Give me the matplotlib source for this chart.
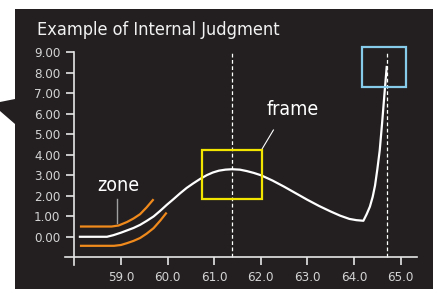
"""Example of Internal Judgment: curve with zone and frame callouts on a dark panel."""

import matplotlib

matplotlib.use("Agg")
import matplotlib.pyplot as plt
from matplotlib import font_manager
from matplotlib.patches import Polygon, Rectangle

# condensed face if one is installed, else a narrow-ish sans
names = {f.name for f in font_manager.fontManager.ttflist}
cond = [f for f in font_manager.fontManager.ttflist
        if f.name == "DejaVu Sans" and f.stretch == "condensed"]
if "Liberation Sans Narrow" in names:
    FAMILY, STRETCH = ["Liberation Sans Narrow", "DejaVu Sans"], "normal"
elif cond:
    FAMILY, STRETCH = ["DejaVu Sans"], "condensed"
else:
    FAMILY, STRETCH = ["Roboto", "DejaVu Sans"], "normal"
plt.rcParams["font.family"] = FAMILY
plt.rcParams["font.stretch"] = STRETCH

# main curve (white)
curve_x = [58.12, 58.7, 58.84, 59.0, 59.13, 59.27, 59.41, 59.55, 59.70, 59.84, 59.98,
           60.13, 60.27, 60.41, 60.55, 60.7, 60.84, 60.97, 61.1, 61.24, 61.38, 61.55,
           61.7, 61.85, 62.0, 62.25, 62.5, 62.75, 63.0, 63.25, 63.5, 63.7, 63.9,
           64.05, 64.2, 64.27, 64.34, 64.4, 64.45, 64.5, 64.55, 64.6, 64.65, 64.7]
curve_y = [0.0, 0.0, 0.08, 0.2, 0.31, 0.43, 0.58, 0.77, 0.99, 1.26, 1.55,
           1.84, 2.12, 2.38, 2.6, 2.82, 3.0, 3.13, 3.22, 3.27, 3.29, 3.27,
           3.2, 3.11, 3.0, 2.74, 2.44, 2.12, 1.8, 1.5, 1.23, 1.03, 0.87,
           0.81, 0.78, 1.1, 1.47, 1.95, 2.5, 3.3, 4.2, 5.5, 6.9, 8.27]

# zone band (orange)
upper_x = [58.12, 58.8, 58.95, 59.13, 59.27, 59.41, 59.55, 59.70]
upper_y = [0.5, 0.5, 0.55, 0.72, 0.89, 1.1, 1.43, 1.83]
lower_x = [58.12, 58.85, 59.0, 59.13, 59.27, 59.41, 59.55, 59.70, 59.84, 59.98]
lower_y = [-0.44, -0.44, -0.40, -0.31, -0.2, -0.06, 0.15, 0.42, 0.78, 1.18]

peak_x = 61.38
end_x = 64.7

x_ticks = [59.0, 60.0, 61.0, 62.0, 63.0, 64.0, 65.0]
y_ticks = [0, 1, 2, 3, 4, 5, 6, 7, 8, 9]

# callout boxes: (x0, y0, x1, y1)
frame_box = (60.74, 1.84, 62.03, 4.22)
end_box = (64.17, 7.30, 65.12, 9.24)

BG = "#231f20"
FG = "#e6e6e6"

fig = plt.figure(figsize=(4.35, 2.89), dpi=100)
fig.patch.set_facecolor("white")

W, H = 435.0, 289.0
fig.add_artist(Rectangle((15 / W, 0), (433 - 15) / W, 1 - 9 / H,
                         transform=fig.transFigure, facecolor=BG,
                         edgecolor="none", zorder=0))
wedge = [(0, 102), (15, 99), (15, 124), (0, 111)]
fig.add_artist(Polygon([(px / W, 1 - py / H) for px, py in wedge], closed=True,
                       transform=fig.transFigure, facecolor=BG,
                       edgecolor="none", zorder=0))

ax = fig.add_axes([65 / W, 1 - 264.5 / H, (417 - 65) / W, (264.5 - 52) / H])
ax.set_facecolor("none")
ax.set_xlim(57.8, 65.35)
ax.set_ylim(-1.35, 9)

for s in ("top", "right"):
    ax.spines[s].set_visible(False)
ax.spines["left"].set_position(("data", 58.0))
ax.spines["bottom"].set_position(("data", -1.0))
for s in ("left", "bottom"):
    ax.spines[s].set_color(FG)
    ax.spines[s].set_linewidth(1.2)

ax.set_xticks(x_ticks)
ax.set_xticklabels([f"{v:.1f}" for v in x_ticks])
ax.set_yticks(y_ticks)
ax.set_yticklabels([f"{v:.2f}" for v in y_ticks])
ax.tick_params(colors=FG, labelcolor="#d4d4d4", labelsize=9.5,
               length=6, width=1.2, pad=4)

# reference lines
for xv in (peak_x, end_x):
    ax.plot([xv, xv], [-1, 9], color="white", lw=0.9, ls=(0, (3, 2)), zorder=2)

ax.plot(upper_x, upper_y, color="#f08a1c", lw=1.6, solid_capstyle="butt", zorder=3)
ax.plot(lower_x, lower_y, color="#f08a1c", lw=1.6, solid_capstyle="butt", zorder=3)
ax.plot(curve_x, curve_y, color="white", lw=1.6, solid_joinstyle="round", zorder=4)

for (x0, y0, x1, y1), col in ((frame_box, "#f2e500"), (end_box, "#86cbe9")):
    ax.add_patch(Rectangle((x0, y0), x1 - x0, y1 - y0, fill=False,
                           edgecolor=col, lw=1.6, clip_on=False, zorder=5))

# labels with leader lines
ax.text(62.68, 6.22, "frame", color="white", fontsize=14, ha="center", va="center")
ax.plot([62.27, 62.02], [5.2, 4.25], color="white", lw=0.8)
ax.text(58.95, 2.52, "zone", color="white", fontsize=14, ha="center", va="center")
ax.plot([58.91, 58.91], [1.83, 0.66], color="#a0a0a0", lw=1.0)

fig.text(37 / W, 1 - 35 / H, "Example of Internal Judgment", color="#f2f2f2",
         fontsize=13, ha="left", va="baseline")

fig.savefig("out.png", dpi=100, facecolor=fig.get_facecolor())
